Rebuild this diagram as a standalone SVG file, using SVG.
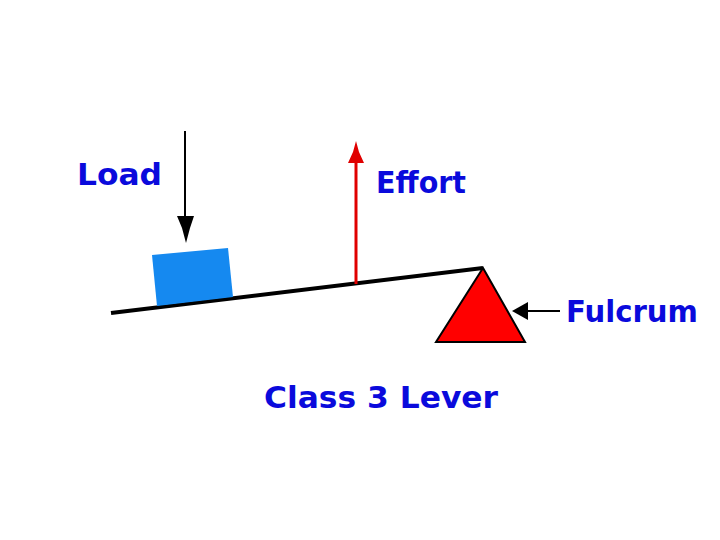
<svg xmlns="http://www.w3.org/2000/svg" width="720" height="540" viewBox="0 0 720 540">
<style>
.lbl{font-family:"DejaVu Sans","Liberation Sans",sans-serif;font-weight:bold;font-size:31px;fill:#0a0adc}
</style>
<rect width="720" height="540" fill="#ffffff"/>
<g id="lever">
<line x1="111" y1="313" x2="483" y2="268" stroke="#000" stroke-width="4"/>
</g>
<g id="load-block">
<polygon points="152,255 228,248 233,297 157,306" fill="#1589f0"/>
</g>
<g id="fulcrum">
<polygon points="483,268 436,342 525,342" fill="#ff0000" stroke="#000" stroke-width="2" stroke-linejoin="miter"/>
</g>
<g id="connectors">
<line x1="185" y1="131" x2="185" y2="220" stroke="#000" stroke-width="2"/>
<polygon points="177,216 194,216 190,228 186,243 182,228" fill="#000"/>
<line x1="356" y1="284" x2="356" y2="158" stroke="#e00000" stroke-width="3"/>
<polygon points="348,163 364,163 359,152 356,141 353,152" fill="#e00000"/>
<line x1="560" y1="311" x2="524" y2="311" stroke="#000" stroke-width="2"/>
<polygon points="512,311 528,302 528,320" fill="#000"/>
</g>
<g id="labels">
<text class="lbl" x="77" y="185" textLength="85" lengthAdjust="spacingAndGlyphs">Load</text>
<text class="lbl" x="376" y="193" textLength="90" lengthAdjust="spacingAndGlyphs">Effort</text>
<text class="lbl" x="566" y="322" textLength="132" lengthAdjust="spacingAndGlyphs">Fulcrum</text>
<text class="lbl" x="264" y="408" textLength="234" lengthAdjust="spacingAndGlyphs">Class 3 Lever</text>
</g>
</svg>
